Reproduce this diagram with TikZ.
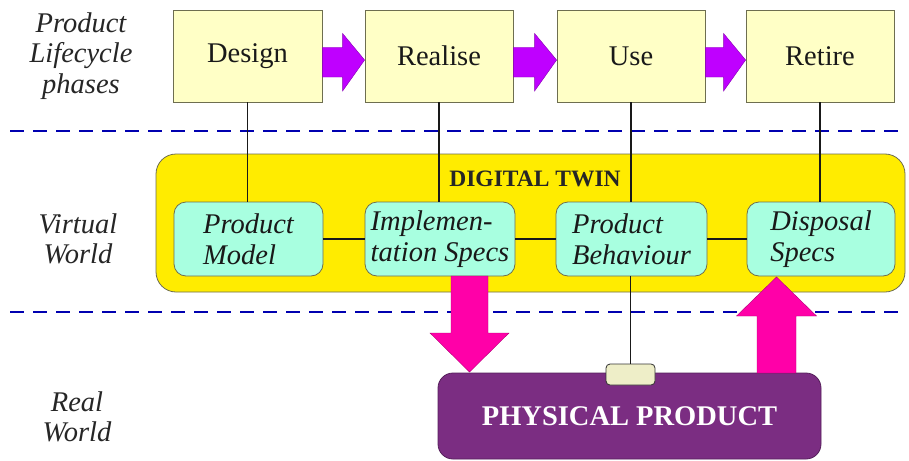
\documentclass[tikz,border=0pt]{standalone}
\usepackage{fontspec}
\setmainfont{Liberation Serif}
\usetikzlibrary{calc}
\definecolor{phasefill}{HTML}{FFFFC6}
\definecolor{twinfill}{HTML}{FFEC00}
\definecolor{modfill}{HTML}{A8FFE0}
\definecolor{physfill}{HTML}{7B2D82}
\definecolor{sensfill}{HTML}{EEEEC8}
\definecolor{parrow}{HTML}{BF00FF}
\definecolor{pinkarrow}{HTML}{FF00A8}
\definecolor{dashblue}{HTML}{0000B0}
\definecolor{edgegray}{HTML}{6E6E50}
\begin{document}
\begin{tikzpicture}[x=1pt,y=-1pt,
  phasebox/.style={draw=edgegray,line width=0.8pt,fill=phasefill,minimum width=149pt,minimum height=92pt,inner sep=0pt,font=\fontsize{28.5}{31}\selectfont,text=black!90},
  modbox/.style={draw=edgegray,line width=0.8pt,fill=modfill,rounded corners=12pt,minimum height=74pt,inner sep=0pt,align=left,font=\fontsize{28.5}{31}\selectfont\itshape,text=black!90},
  sidelabel/.style={align=center,font=\fontsize{28.5}{30.5}\selectfont\itshape,text=black!85},
  link/.style={line width=1.8pt,black!90},
  sepline/.style={dashblue,line width=1.8pt,dash pattern=on 14pt off 9pt},
  flowarrow/.style={fill=parrow,draw=parrow!70!black,line width=0.4pt},
  bigarrow/.style={fill=pinkarrow,draw=pinkarrow!70!black,line width=0.4pt}
]
\useasboundingbox (0,0) rectangle (909,460);
\fill[white] (0,0) rectangle (909,460);

% separators
\coordinate (s1a) at (10,131); \coordinate (s1b) at (905,131);
\coordinate (s2a) at (10,312); \coordinate (s2b) at (905,312);
\draw[sepline] (s1a) -- (s1b);
\draw[sepline] (s2a) -- (s2b);

% left labels
\node[sidelabel] (lab1) at (81,56) {Product\\Lifecycle\\phases};
\node[sidelabel] (lab2) at (78,239) {Virtual\\World};
\node[sidelabel] (lab3) at (77,417) {Real\\World};

% digital twin
\node[draw=edgegray,line width=0.8pt,fill=twinfill,rounded corners=20pt,minimum width=749pt,minimum height=138pt,inner sep=0pt] (twin) at (530.5,223) {};
\node[font=\fontsize{23.5}{26}\selectfont\bfseries,text=black!85] (twinlab) at (535,179) {DIGITAL TWIN};

% phase boxes
\node[phasebox] (design) at (247.5,56) {Design};
\node[phasebox,minimum width=148pt] (realise) at (439,56) {Realise};
\node[phasebox,minimum width=148pt] (use) at (631,56) {Use};
\node[phasebox,minimum width=148pt] (retire) at (820,56) {Retire};

% model boxes
\node[modbox,minimum width=149pt] (model) at (248.5,239) {Product\\Model};
\node[modbox,minimum width=150pt] (impl) at (440,239) {Implemen-\\tation Specs};
\node[modbox,minimum width=151pt] (behav) at (631.5,239) {Product\\Behaviour};
\node[modbox,minimum width=148pt] (disp) at (821,239) {Disposal\\Specs};

% physical product
\node[draw=physfill!70!black,line width=0.8pt,fill=physfill,rounded corners=15pt,minimum width=383pt,minimum height=86pt,inner sep=0pt,text=white,font=\fontsize{28.5}{32}\selectfont\bfseries] (phys) at (629.5,416) {PHYSICAL PRODUCT};
\node[draw=black!80,line width=0.8pt,fill=sensfill,rounded corners=4pt,minimum width=49pt,minimum height=21pt,inner sep=0pt] (sensor) at (630.5,374.5) {};

% vertical links
\draw[link] (design.south) -- (design.south |- model.north);
\draw[link] (realise.south) -- (realise.south |- impl.north);
\draw[link] (use.south) -- (use.south |- behav.north);
\draw[link] (retire.south) -- (retire.south |- disp.north);
\draw[link] (behav.south -| sensor.north) -- (sensor.north);

% horizontal links
\draw[link] (model.east) -- (impl.west);
\draw[link] (impl.east) -- (behav.west);
\draw[link] (behav.east) -- (disp.west);

% phase flow arrows
\foreach \a/\b in {design/realise,realise/use,use/retire}{
  \path (\a.east) ++(0,6) coordinate (st);
  \path (\b.west) ++(0,6) coordinate (en);
  \fill[flowarrow] ($(st)+(0,-14.5)$) -- ($(en)+(-22,-14.5)$) -- ($(en)+(-22,-28.5)$) -- ($(en)+(0,-2)$) -- ($(en)+(-22,29)$) -- ($(en)+(-22,15)$) -- ($(st)+(0,15)$) -- cycle;
}

% down arrow: impl -> phys
\coordinate (dtop) at (469.5,276);
\coordinate (dtip) at (469.5,372);
\filldraw[bigarrow] ($(dtop)+(-18.5,0)$) -- ($(dtop)+(18.5,0)$) -- ($(dtip)+(18.5,-39)$) -- ($(dtip)+(39.5,-39)$) -- (dtip) -- ($(dtip)+(-39.5,-39)$) -- ($(dtip)+(-18.5,-39)$) -- cycle;

% up arrow: phys -> disp
\coordinate (ubot) at (776.5,373);
\coordinate (utip) at (776.5,277);
\filldraw[bigarrow] ($(ubot)+(-19.5,0)$) -- ($(ubot)+(19.5,0)$) -- ($(utip)+(19.5,39)$) -- ($(utip)+(40,39)$) -- (utip) -- ($(utip)+(-40,39)$) -- ($(utip)+(-19.5,39)$) -- cycle;
\end{tikzpicture}
\end{document}
